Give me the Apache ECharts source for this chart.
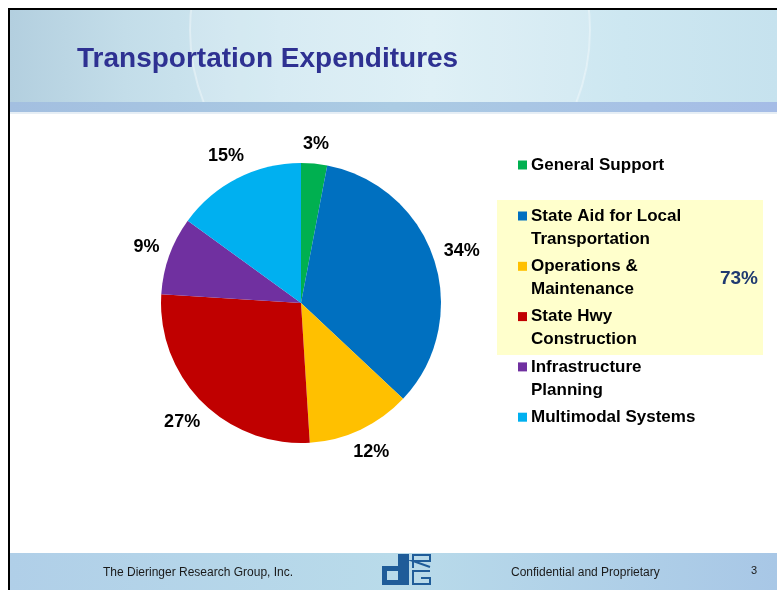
<!DOCTYPE html>
<html>
<head>
<meta charset="utf-8">
<title>Transportation Expenditures</title>
<script src="https://cdn.jsdelivr.net/npm/echarts@6/dist/echarts.min.js"></script>
<style>
  html, body { margin: 0; padding: 0; background: #fff; }
  #chart { width: 777px; height: 590px; }
</style>
</head>
<body>
<div id="chart"></div>
<script>
// slide data
const title = 'Transportation Expenditures'
const categories = [
  'General Support',
  'State Aid for Local\nTransportation',
  'Operations &\nMaintenance',
  'State Hwy\nConstruction',
  'Infrastructure\nPlanning',
  'Multimodal Systems'
]
const shares = [3, 34, 12, 27, 9, 15]
const colors = ['#00B050', '#0070C0', '#FFC000', '#C00000', '#7030A0', '#00B0F0']
const highlightLabel = '73%'
const footerLeft = 'The Dieringer Research Group, Inc.'
const footerRight = 'Confidential and Proprietary'
const pageNo = '3'

const CX = 301, CY = 303, R = 140
const total = shares.reduce((a, b) => a + b, 0)

const chart = echarts.init(document.getElementById('chart'), null, { renderer: 'canvas' })

// label sits outside the slice, centred on its radial direction
function labelPos(p) {
  let cum = 0
  for (let i = 0; i < p.dataIndex; i++) cum += shares[i]
  const mid = (90 - 360 * (cum + shares[p.dataIndex] / 2) / total) * Math.PI / 180
  const dx = Math.cos(mid), dy = -Math.sin(mid)
  const hw = p.labelRect.width / 2, hh = p.labelRect.height / 2
  const d = R + 9 + Math.abs(dx) * hw + Math.abs(dy) * hh
  return { x: CX + dx * d, y: CY + dy * d, align: 'center', verticalAlign: 'middle' }
}

const font = '"Liberation Sans", Arial, sans-serif'
const graphics = []

// header band
graphics.push({
  type: 'rect', shape: { x: 10, y: 10, width: 767, height: 92 }, silent: true,
  style: { fill: new echarts.graphic.LinearGradient(0, 0, 1, 0, [
    { offset: 0, color: '#B3CFDF' }, { offset: 0.15, color: '#C3DDE9' }, { offset: 0.35, color: '#D2E9F2' },
    { offset: 0.55, color: '#DBEEF5' }, { offset: 0.8, color: '#CDE7F1' }, { offset: 1, color: '#C6E2EE' }
  ]) }
})
graphics.push({
  type: 'circle', shape: { cx: 390, cy: 30, r: 200 }, silent: true,
  style: { fill: 'rgba(255,255,255,0.12)', stroke: 'rgba(255,255,255,0.35)', lineWidth: 2 }
})
graphics.push({
  type: 'rect', shape: { x: 10, y: 102, width: 767, height: 10 }, silent: true,
  style: { fill: new echarts.graphic.LinearGradient(0, 0, 1, 0, [
    { offset: 0, color: '#A3BFE0' }, { offset: 0.5, color: '#ABCBE3' }, { offset: 1, color: '#A5BCE6' }
  ]) }
})
graphics.push({
  type: 'rect', shape: { x: 10, y: 112, width: 767, height: 2 }, silent: true,
  style: { fill: '#E6EEF5' }
})
graphics.push({
  type: 'text', x: 77, y: 59, silent: true,
  style: { text: title, fill: '#2E3192', font: 'bold 28px ' + font, verticalAlign: 'middle' }
})

// footer band
graphics.push({
  type: 'rect', shape: { x: 10, y: 553, width: 767, height: 37 }, silent: true,
  style: { fill: new echarts.graphic.LinearGradient(0, 0, 1, 0, [
    { offset: 0, color: '#B0CFE8' }, { offset: 0.5, color: '#B9DBEA' }, { offset: 1, color: '#A8C7E6' }
  ]) }
})
graphics.push({
  type: 'text', x: 103, y: 573, silent: true,
  style: { text: footerLeft, fill: '#1a1a1a', font: '12px ' + font, verticalAlign: 'middle' }
})
graphics.push({
  type: 'text', x: 511, y: 573, silent: true,
  style: { text: footerRight, fill: '#1a1a1a', font: '12px ' + font, verticalAlign: 'middle' }
})
graphics.push({
  type: 'text', x: 751, y: 571, silent: true,
  style: { text: pageNo, fill: '#1a1a1a', font: '11px ' + font, verticalAlign: 'middle' }
})
// logo
const logoBlue = '#1F5C99'
;[[398, 554, 11, 31], [382, 566, 16, 5], [382, 566, 5, 19], [382, 580, 16, 5]].forEach(r => {
  graphics.push({ type: 'rect', shape: { x: r[0], y: r[1], width: r[2], height: r[3] }, silent: true, style: { fill: logoBlue } })
})
graphics.push({
  type: 'polyline', silent: true,
  shape: { points: [[413, 568], [413, 555], [430, 555], [430, 561], [413, 561], [430, 567]] },
  style: { stroke: logoBlue, lineWidth: 2, fill: null }
})
graphics.push({
  type: 'polyline', silent: true,
  shape: { points: [[430, 571], [413, 571], [413, 584], [430, 584], [430, 578], [421, 578]] },
  style: { stroke: logoBlue, lineWidth: 2, fill: null }
})

// slide frame
graphics.push({ type: 'rect', shape: { x: 8, y: 8, width: 769, height: 2 }, silent: true, style: { fill: '#000' } })
graphics.push({ type: 'rect', shape: { x: 8, y: 8, width: 2, height: 582 }, silent: true, style: { fill: '#000' } })

// highlight box behind three legend entries
graphics.push({
  type: 'rect', shape: { x: 497, y: 200, width: 266, height: 155 }, silent: true,
  style: { fill: '#FFFFCC' }
})
graphics.push({
  type: 'text', x: 739, y: 279, silent: true,
  style: { text: highlightLabel, fill: '#1F3A70', font: 'bold 19px ' + font, align: 'center', verticalAlign: 'middle' }
})

// legend
categories.forEach((name, i) => {
  const yc = i === 0 ? 165 : 216 + (i - 1) * 50.3
  graphics.push({
    type: 'rect', shape: { x: 518, y: yc - 4.5, width: 9, height: 9 }, silent: true,
    style: { fill: colors[i] }
  })
  graphics.push({
    type: 'text', x: 531, y: yc - 11.5, silent: true,
    style: { text: name, fill: '#000', font: 'bold 17px ' + font, lineHeight: 23, verticalAlign: 'top' }
  })
})

chart.setOption({
  animation: false,
  backgroundColor: '#fff',
  graphic: { elements: graphics },
  series: [{
    type: 'pie',
    center: [CX, CY],
    radius: [0, R],
    startAngle: 90,
    clockwise: true,
    silent: true,
    emphasis: { disabled: true },
    label: {
      show: true,
      position: 'outside',
      formatter: '{c}%',
      color: '#000',
      fontFamily: font,
      fontWeight: 'bold',
      fontSize: 18
    },
    labelLine: { show: false },
    labelLayout: labelPos,
    itemStyle: { borderWidth: 0 },
    data: categories.map((name, i) => ({ name: name, value: shares[i], itemStyle: { color: colors[i] } }))
  }]
})
</script>
</body>
</html>
